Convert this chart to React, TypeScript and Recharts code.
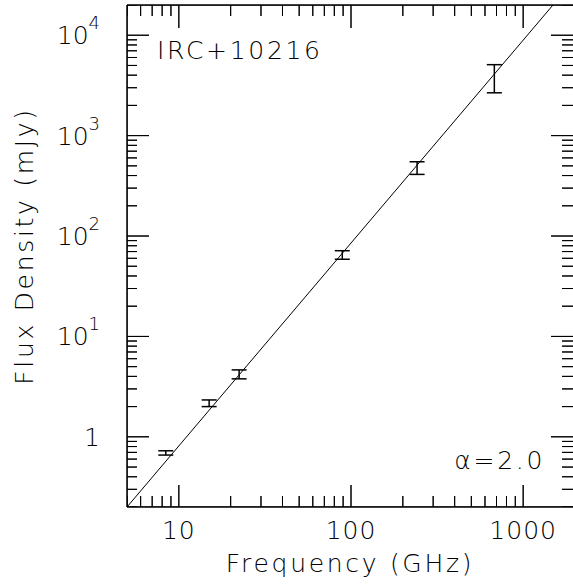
import React from 'react';
import { ComposedChart, XAxis, YAxis, Scatter, ErrorBar } from 'recharts';

// Measured points (GHz, mJy)
const frequencies = [8.4, 15, 22.4, 89, 242, 680];
const fluxValues = [0.69, 2.15, 4.2, 65, 480, 3700];
const fluxLow = [0.658, 2.0, 3.78, 58.7, 411, 2670];
const fluxHigh = [0.726, 2.33, 4.64, 71.4, 549, 5090];

// Power-law fit line (alpha = 2.0) endpoints
const fitX = [5, 1490];
const fitY = [0.2, 20000];

const xDomain = [5, 2000];
const yDomain = [0.2, 20000];
const xMajorTicks = [10, 100, 1000];
const xMinorTicks = [5, 6, 7, 8, 9, 20, 30, 40, 50, 60, 70, 80, 90, 200, 300, 400, 500, 600, 700, 800, 900, 2000];
const xTickLabels = ['10', '100', '1000'];
const yMajorTicks = [1, 10, 100, 1000, 10000];
const yMinorTicks = [0.2, 0.3, 0.4, 0.5, 0.6, 0.7, 0.8, 0.9, 2, 3, 4, 5, 6, 7, 8, 9, 20, 30, 40, 50, 60, 70, 80, 90,
  200, 300, 400, 500, 600, 700, 800, 900, 2000, 3000, 4000, 5000, 6000, 7000, 8000, 9000, 20000];
const yTickBases = ['1', '10', '10', '10', '10'];
const yTickExponents = ['', '1', '2', '3', '4'];

// layout
const CHART_W = 590;
const CHART_H = 585;
const LEFT = 127;
const RIGHT = 15;
const TOP = 5;
const BOTTOM = 78;
const plotW = CHART_W - LEFT - RIGHT;
const plotH = CHART_H - TOP - BOTTOM;
const pxPerDecadeX = plotW / Math.log10(xDomain[1] / xDomain[0]);
const pxPerDecadeY = plotH / Math.log10(yDomain[1] / yDomain[0]);
const fx = (px: number) => Math.pow(10, px / pxPerDecadeX);
const fy = (px: number) => Math.pow(10, px / pxPerDecadeY);

const pointData = frequencies.map((f, i) => ({
  x: f,
  y: fluxValues[i],
  err: [fluxValues[i] - fluxLow[i], fluxHigh[i] - fluxValues[i]],
}));
const fitData = fitX.map((x, i) => ({ x, y: fitY[i] }));

const xTicks = [...xMajorTicks, ...xMinorTicks].sort((a, b) => a - b);
const yTicks = [...yMajorTicks, ...yMinorTicks].sort((a, b) => a - b);
const isXMajor = (v: number) => xMajorTicks.indexOf(v) >= 0;
const isYMajor = (v: number) => yMajorTicks.indexOf(v) >= 0;

// inward tick marks as zig-zag polylines along each frame edge
const bottomMarks = xTicks.flatMap((v) => {
  const k = fy(isXMajor(v) ? 22 : 11);
  return [{ x: v, y: yDomain[0] }, { x: v, y: yDomain[0] * k }, { x: v, y: yDomain[0] }];
});
const topMarks = xTicks.flatMap((v) => {
  const k = fy(isXMajor(v) ? 23 : 11);
  return [{ x: v, y: yDomain[1] }, { x: v, y: yDomain[1] / k }, { x: v, y: yDomain[1] }];
});
const leftMarks = yTicks.flatMap((v) => {
  const k = fx(isYMajor(v) ? 22 : 10);
  return [{ x: xDomain[0], y: v }, { x: xDomain[0] * k, y: v }, { x: xDomain[0], y: v }];
});
const rightMarks = yTicks.flatMap((v) => {
  const k = fx(isYMajor(v) ? 24 : 13);
  return [{ x: xDomain[1], y: v }, { x: xDomain[1] / k, y: v }, { x: xDomain[1], y: v }];
});

const FONT = '"DejaVu Sans", sans-serif';
const FW = 200;

function makeTicks() {
  const BottomLabel = (p: any) => {
    const idx = xMajorTicks.indexOf(p.payload.value);
    if (idx < 0) return <g />;
    return (
      <text x={p.x} y={p.y + 31} textAnchor="middle" fontSize={25} letterSpacing={1}
        fontFamily={FONT} fontWeight={FW} fill="#000">{xTickLabels[idx]}</text>
    );
  };
  const LeftLabel = (p: any) => {
    const idx = yMajorTicks.indexOf(p.payload.value);
    if (idx < 0) return <g />;
    return (
      <text x={p.x - 26} y={p.y + 9} textAnchor="end" fontSize={25}
        fontFamily={FONT} fontWeight={FW} fill="#000">
        {yTickBases[idx]}
        {yTickExponents[idx] !== '' && <tspan dy={-15} fontSize={18}>{yTickExponents[idx]}</tspan>}
      </text>
    );
  };
  return { BottomLabel, LeftLabel };
}

const textStyle: React.CSSProperties = {
  position: 'absolute',
  fontFamily: FONT,
  fontWeight: FW,
  fontSize: 25,
  lineHeight: '30px',
  letterSpacing: 2.7,
  whiteSpace: 'nowrap',
  color: '#000',
  pointerEvents: 'none',
};

const Empty = () => <g />;
const markLine = { stroke: '#000', strokeWidth: 1 };

export default function App() {
  const { BottomLabel, LeftLabel } = makeTicks();
  return (
    <div style={{ position: 'absolute', left: 0, top: 0, width: 573, height: 585, overflow: 'hidden' }}>
      <ComposedChart width={CHART_W} height={CHART_H} margin={{ top: 0, right: 0, bottom: 0, left: 0 }}>
        <XAxis xAxisId="b" dataKey="x" type="number" scale="log" domain={xDomain} allowDataOverflow
          ticks={xMajorTicks} tickSize={0} tickMargin={0} height={1}
          axisLine={{ stroke: '#000', strokeWidth: 1.5 }} tickLine={false} tick={false} />
        <XAxis xAxisId="bl" dataKey="x" type="number" scale="log" domain={xDomain} allowDataOverflow
          ticks={xMajorTicks} interval={0} tickSize={0} tickMargin={0} height={BOTTOM - 1}
          axisLine={false} tickLine={false} tick={<BottomLabel />} />
        <XAxis xAxisId="t" orientation="top" dataKey="x" type="number" scale="log" domain={xDomain} allowDataOverflow
          ticks={xMajorTicks} tickSize={0} tickMargin={0} height={TOP}
          axisLine={{ stroke: '#000', strokeWidth: 1.5 }} tickLine={false} tick={false} />
        <YAxis yAxisId="l" dataKey="y" type="number" scale="log" domain={yDomain} allowDataOverflow
          ticks={yMajorTicks} tickSize={0} tickMargin={0} width={1}
          axisLine={{ stroke: '#000', strokeWidth: 1.5 }} tickLine={false} tick={false} />
        <YAxis yAxisId="ll" dataKey="y" type="number" scale="log" domain={yDomain} allowDataOverflow
          ticks={yMajorTicks} interval={0} tickSize={0} tickMargin={0} width={LEFT - 1}
          axisLine={false} tickLine={false} tick={<LeftLabel />} />
        <YAxis yAxisId="r" orientation="right" dataKey="y" type="number" scale="log" domain={yDomain} allowDataOverflow
          ticks={yMajorTicks} tickSize={0} tickMargin={0} width={RIGHT}
          axisLine={{ stroke: '#000', strokeWidth: 1.5 }} tickLine={false} tick={false} />
        <Scatter xAxisId="b" yAxisId="l" data={bottomMarks} dataKey="y" line={markLine} lineType="joint"
          shape={Empty} isAnimationActive={false} />
        <Scatter xAxisId="b" yAxisId="l" data={topMarks} dataKey="y" line={markLine} lineType="joint"
          shape={Empty} isAnimationActive={false} />
        <Scatter xAxisId="b" yAxisId="l" data={leftMarks} dataKey="y" line={markLine} lineType="joint"
          shape={Empty} isAnimationActive={false} />
        <Scatter xAxisId="b" yAxisId="l" data={rightMarks} dataKey="y" line={markLine} lineType="joint"
          shape={Empty} isAnimationActive={false} />
        <Scatter xAxisId="b" yAxisId="l" data={fitData} dataKey="y" line={{ stroke: '#000', strokeWidth: 1 }}
          lineType="joint" shape={Empty} isAnimationActive={false} />
        <Scatter xAxisId="b" yAxisId="l" data={pointData} dataKey="y" shape={Empty} isAnimationActive={false}>
          <ErrorBar dataKey="err" direction="y" width={7.5} stroke="#000" strokeWidth={1.5} isAnimationActive={false} />
        </Scatter>
      </ComposedChart>
      <div style={{ ...textStyle, left: 157, top: 36.4 }}>IRC+10216</div>
      <div style={{ ...textStyle, right: 28, top: 446.4 }}>α=2.0</div>
      <div style={{ ...textStyle, left: 350, top: 549.4, transform: 'translateX(-50%)' }}>Frequency (GHz)</div>
      <div style={{ ...textStyle, left: 25.4, top: 246, transform: 'translate(-50%, -50%) rotate(-90deg)' }}>Flux Density (mJy)</div>
    </div>
  );
}
